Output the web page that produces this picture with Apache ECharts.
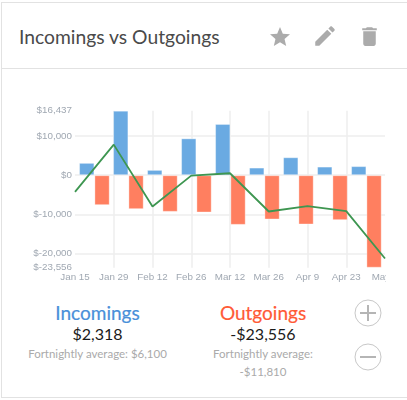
<!DOCTYPE html>
<html><head><meta charset="utf-8">
<script src="https://cdn.jsdelivr.net/npm/echarts@6/dist/echarts.min.js"></script>
<style>
html,body{margin:0;padding:0;background:#fff;width:407px;height:400px;overflow:hidden;font-family:Lato,sans-serif}
.abs{position:absolute;white-space:nowrap}
.c{transform:translate(-50%,-50%)}
#card{position:absolute;left:1px;top:2px;width:420px;height:396px;border:1px solid #e2e2e2;box-sizing:border-box}
#rule{position:absolute;left:1px;top:68px;width:406px;height:1px;background:#e2e2e2}
#clip{position:absolute;left:0;top:90px;width:386px;height:200px;overflow:hidden}
#chart{width:407px;height:200px}
</style></head><body>
<div id="card"></div><div id="rule"></div>
<div class="abs" style="left:19px;top:36px;transform:translateY(-50%);font-size:19.3px;color:#4a4a4a">Incomings vs Outgoings</div>
<svg class="abs" style="left:268px;top:25px" width="24" height="24" viewBox="0 0 24 24" fill="#ababab"><path d="M12 17.27L18.18 21l-1.64-7.03L22 9.24l-7.19-.61L12 2 9.19 8.63 2 9.24l5.46 4.73L5.82 21z"/></svg>
<svg class="abs" style="left:312px;top:23px" width="26" height="26" viewBox="0 0 24 24" fill="#ababab"><path d="M3 17.25V21h3.75L17.81 9.94l-3.75-3.75L3 17.25zM20.71 7.04c.39-.39.39-1.02 0-1.41l-2.34-2.34c-.39-.39-1.02-.39-1.41 0l-1.83 1.83 3.75 3.75 1.83-1.83z"/></svg>
<svg class="abs" style="left:357px;top:24px" width="25" height="25" viewBox="0 0 24 24" fill="#ababab"><path d="M6 19c0 1.1.9 2 2 2h8c1.1 0 2-.9 2-2V7H6v12zM19 4h-3.5l-1-1h-5l-1 1H5v2h14V4z"/></svg>
<div id="clip"><div id="chart"></div></div>
<div class="abs c" style="left:97.5px;top:312px;font-size:19px;color:#4a90d9;-webkit-text-stroke:0.2px #4a90d9">Incomings</div>
<div class="abs c" style="left:97.5px;top:333px;font-size:16px;color:#1a1a1a">$2,318</div>
<div class="abs c" style="left:97.5px;top:353px;font-size:11.5px;color:#aaa">Fortnightly average: $6,100</div>
<div class="abs c" style="left:263px;top:312px;font-size:19px;color:#ff5a36;-webkit-text-stroke:0.2px #ff5a36">Outgoings</div>
<div class="abs c" style="left:263px;top:333px;font-size:16px;color:#1a1a1a">-$23,556</div>
<div class="abs c" style="left:263px;top:353px;font-size:11.5px;color:#aaa">Fortnightly average:</div>
<div class="abs c" style="left:263px;top:371px;font-size:11.5px;color:#aaa">-$11,810</div>
<svg class="abs" style="left:353px;top:298px" width="30" height="74" fill="none" stroke="#c8c8c8">
<circle cx="15" cy="15" r="13" stroke-width="1"/><path d="M7 15H23M15 7V23" stroke="#b5b5b5" stroke-width="2"/>
<circle cx="15" cy="59" r="13" stroke-width="1"/><path d="M7 59H23" stroke="#b5b5b5" stroke-width="2"/></svg>
<script>
const tickLabels = ['Jan 15','Jan 29','Feb 12','Feb 26','Mar 12','Mar 26','Apr 9','Apr 23','May 7'];
const incomings = [3150,16437,1360,9400,13060,1950,4580,2200,2318];
const outgoings = [-7630,-8650,-9330,-9500,-12640,-11280,-12550,-11450,-23556];
const net = [-4240,7800,-7970,-100,500,-9240,-7890,-9160,-21200];
const yTicks = [-23556,-20000,-10000,0,10000,16437];
const gridTicks = [-20000,-10000,0,10000];

const fmt = v => v < 0 ? '$-' + Math.abs(v).toLocaleString('en-US') : '$' + v.toLocaleString('en-US');
const chart = echarts.init(document.getElementById('chart'), null, {renderer:'canvas'});
const barStyle = c => ({color:c, borderColor:'rgba(255,255,255,0.35)', borderWidth:1});
const labelFont = {color:'#a0a8b2',fontSize:9.8,fontFamily:'Liberation Sans'};
chart.setOption({
  animation:false,
  grid:[
    {left:75,right:22,top:20.7,bottom:22.3},
    {left:77.4,right:23.6,top:20.7,bottom:22.3}
  ],
  xAxis:[
    {type:'category',gridIndex:0,data:tickLabels,boundaryGap:false,
     axisLine:{show:false},axisTick:{show:false},
     axisLabel:Object.assign({interval:0,margin:5,hideOverlap:false},labelFont),
     splitLine:{show:true,showMinLine:false,showMaxLine:false,lineStyle:{color:'#eeeeee',width:1.5}}},
    {type:'category',gridIndex:1,data:tickLabels,boundaryGap:true,show:false}
  ],
  yAxis:[
    {type:'value',gridIndex:0,min:-23556,max:16437,
    axisLine:{show:false},
    axisTick:{show:false,customValues:gridTicks},
    axisLabel:Object.assign({customValues:yTicks,formatter:fmt,margin:3,hideOverlap:false,padding:[2,0,0,0]},labelFont),
    splitLine:{show:true,lineStyle:{color:'#eeeeee',width:1.5}}},
    {type:'value',gridIndex:1,min:-23556,max:16437,show:false,splitLine:{show:false}}
  ],
  series:[
    {name:'Incomings',type:'bar',xAxisIndex:1,yAxisIndex:1,data:incomings,barWidth:15.3,barGap:'0%',itemStyle:barStyle('#6aaae2')},
    {name:'Outgoings',type:'bar',xAxisIndex:1,yAxisIndex:1,data:outgoings,barWidth:15.3,barGap:'0%',itemStyle:barStyle('#ff7f60')},
    {name:'Net',type:'line',xAxisIndex:0,yAxisIndex:0,data:net,symbol:'none',z:5,lineStyle:{color:'#3e9651',width:1.8}}
  ]
});
</script>
</body></html>
